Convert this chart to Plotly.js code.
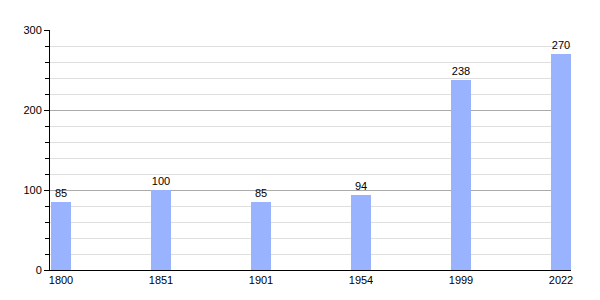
<!DOCTYPE html>
<html><head><meta charset="utf-8">
<script src="https://cdn.plot.ly/plotly-3.0.1.min.js"></script>
<style>html,body{margin:0;padding:0;background:#fff}#c{width:600px;height:300px;opacity:0.999}</style>
</head><body><div id="c"></div>
<script>
var years = ["1800","1851","1901","1954","1999","2022"];
var population = [85,100,85,94,238,270];
var yTicks = [0,100,200,300];

Plotly.newPlot('c',[{
  type:'bar', x:years, y:population, width:0.2,
  marker:{color:'#99b3ff', line:{width:0}},
  text:population.map(String), textposition:'outside', cliponaxis:false,
  textfont:{family:'Liberation Sans, Arial, sans-serif', size:11, color:'#000'},
  hoverinfo:'none'
}],{
  width:600,height:300,
  margin:{l:50,r:29,t:30,b:30,pad:0},
  paper_bgcolor:'#fff',plot_bgcolor:'#fff',
  showlegend:false,
  font:{family:'Liberation Sans, Arial, sans-serif', size:11, color:'#000'},
  xaxis:{type:'category', range:[-0.11,5.1], showgrid:false, zeroline:false,
    showline:true, linecolor:'#000', linewidth:1, ticks:'', ticklabelstandoff:0,
    tickfont:{size:11,color:'#000'}},
  yaxis:{range:[0,300], tickvals:yTicks, ticktext:yTicks.map(String),
    showgrid:true, gridcolor:'#aaaaaa', gridwidth:1, zeroline:false,
    showline:true, linecolor:'#000', linewidth:1, ticks:'outside', ticklen:5, tickcolor:'#000',
    tickfont:{size:11,color:'#000'},
    minor:{dtick:20, showgrid:true, gridcolor:'#e0e0e0', ticks:'outside', ticklen:4, tickcolor:'#000'}},
  bargap:0
},{staticPlot:true,displayModeBar:false});
</script></body></html>
